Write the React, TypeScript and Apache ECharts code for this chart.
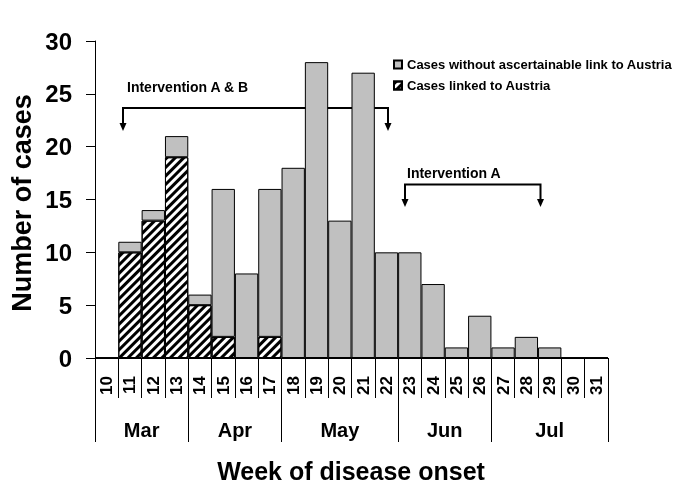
import React, { useEffect, useRef } from 'react';
import * as echarts from 'echarts';

const weeks = ['10', '11', '12', '13', '14', '15', '16', '17', '18', '19', '20', '21', '22', '23', '24', '25', '26', '27', '28', '29', '30', '31'];
const linkedCases = [0, 10, 13, 19, 5, 2, 0, 2, 0, 0, 0, 0, 0, 0, 0, 0, 0, 0, 0, 0, 0, 0];
const unlinkedCases = [0, 1, 1, 2, 1, 14, 8, 14, 18, 28, 13, 27, 10, 10, 7, 1, 4, 1, 2, 1, 0, 0];
const months = ['Mar', 'Apr', 'May', 'Jun', 'Jul'];
const weeksPerMonth = [4, 4, 5, 4, 5];

const FONT = "'Liberation Sans', Arial, sans-serif";

export default function App() {
  const ref = useRef<HTMLDivElement>(null);
  useEffect(() => {
    const chart = echarts.init(ref.current!, null, { renderer: 'svg' });
    const bounds: number[] = [0];
    weeksPerMonth.forEach((w) => bounds.push(bounds[bounds.length - 1] + w));
    const centers = months.map((_, i) => (bounds[i] + bounds[i + 1]) / 2);

    const arrow = (x: number, tip: number) => ({
      type: 'polygon',
      shape: { points: [[x - 3.5, tip - 8], [x + 3.5, tip - 8], [x, tip]] },
      style: { fill: '#000' },
    });

    chart.setOption({
      animation: false,
      textStyle: { fontFamily: FONT },
      grid: { left: 95, right: 77, top: 41, bottom: 130 },
      legend: {
        orient: 'vertical',
        left: 393,
        top: 58,
        padding: 0,
        itemWidth: 8,
        itemHeight: 8,
        itemGap: 8,
        icon: 'rect',
        textStyle: { fontFamily: FONT, fontWeight: 'bold', fontSize: 13, color: '#000' },
        data: ['Cases without ascertainable link to Austria', 'Cases linked to Austria'],
      },
      xAxis: [
        {
          type: 'category',
          data: weeks,
          boundaryGap: true,
          axisLine: { lineStyle: { color: '#000', width: 1 } },
          axisTick: { show: true, length: 40, interval: 0, alignWithLabel: false, lineStyle: { color: '#000' } },
          axisLabel: {
            interval: 0,
            rotate: 90,
            margin: 18,
            fontFamily: FONT,
            fontWeight: 'bold',
            fontSize: 17,
            color: '#000',
          },
          splitLine: { show: false },
        },
        {
          type: 'value',
          min: 0,
          max: 22,
          position: 'bottom',
          axisLine: { show: false },
          splitLine: { show: false },
          axisTick: { show: true, customValues: bounds, length: 84, lineStyle: { color: '#000' } },
          axisLabel: {
            customValues: centers,
            formatter: (v: number) => months[centers.indexOf(v)] ?? '',
            margin: 62,
            fontFamily: FONT,
            fontWeight: 'bold',
            fontSize: 20,
            color: '#000',
          },
        },
      ],
      yAxis: {
        type: 'value',
        min: 0,
        max: 30,
        interval: 5,
        axisLine: { show: true, lineStyle: { color: '#000', width: 1 } },
        axisTick: { show: true, length: 9, lineStyle: { color: '#000' } },
        axisLabel: { margin: 23, fontFamily: FONT, fontWeight: 'bold', fontSize: 24, color: '#000' },
        splitLine: { show: false },
      },
      series: [
        {
          name: 'Cases linked to Austria',
          type: 'bar',
          stack: 'cases',
          xAxisIndex: 0,
          barCategoryGap: '0%',
          data: linkedCases,
          itemStyle: {
            color: '#ffffff',
            borderColor: '#000',
            borderWidth: 1,
            decal: {
              symbol: 'rect',
              symbolSize: 1,
              dashArrayX: [1, 0],
              dashArrayY: [2.5, 2.5],
              rotation: -Math.PI / 4,
              color: '#000',
              backgroundColor: '#fff',
            },
          },
        },
        {
          name: 'Cases without ascertainable link to Austria',
          type: 'bar',
          stack: 'cases',
          xAxisIndex: 0,
          barCategoryGap: '0%',
          data: unlinkedCases,
          itemStyle: { color: '#c0c0c0', borderColor: '#000', borderWidth: 1 },
        },
      ],
      graphic: [
        {
          type: 'text',
          x: 22,
          y: 203,
          rotation: Math.PI / 2,
          style: { text: 'Number of cases', font: `bold 27px ${FONT}`, fill: '#000', align: 'center', verticalAlign: 'middle' },
        },
        {
          type: 'text',
          x: 351,
          y: 471,
          style: { text: 'Week of disease onset', font: `bold 25px ${FONT}`, fill: '#000', align: 'center', verticalAlign: 'middle' },
        },
        {
          type: 'text',
          x: 127,
          y: 87,
          style: { text: 'Intervention A & B', font: `bold 14px ${FONT}`, fill: '#000', align: 'left', verticalAlign: 'middle' },
        },
        {
          type: 'polyline',
          shape: { points: [[123, 124], [123, 108], [388, 108], [388, 124]] },
          style: { stroke: '#000', lineWidth: 2, fill: null },
        },
        arrow(123, 131),
        arrow(388, 131),
        {
          type: 'text',
          x: 407,
          y: 173,
          style: { text: 'Intervention A', font: `bold 14px ${FONT}`, fill: '#000', align: 'left', verticalAlign: 'middle' },
        },
        {
          type: 'polyline',
          shape: { points: [[405, 200], [405, 184.5], [540.5, 184.5], [540.5, 200]] },
          style: { stroke: '#000', lineWidth: 2, fill: null },
        },
        arrow(405, 207),
        arrow(540.5, 207),
      ],
    });
    return () => chart.dispose();
  }, []);
  return <div ref={ref} style={{ position: 'fixed', left: 0, top: 0, width: 685, height: 488 }} />;
}
